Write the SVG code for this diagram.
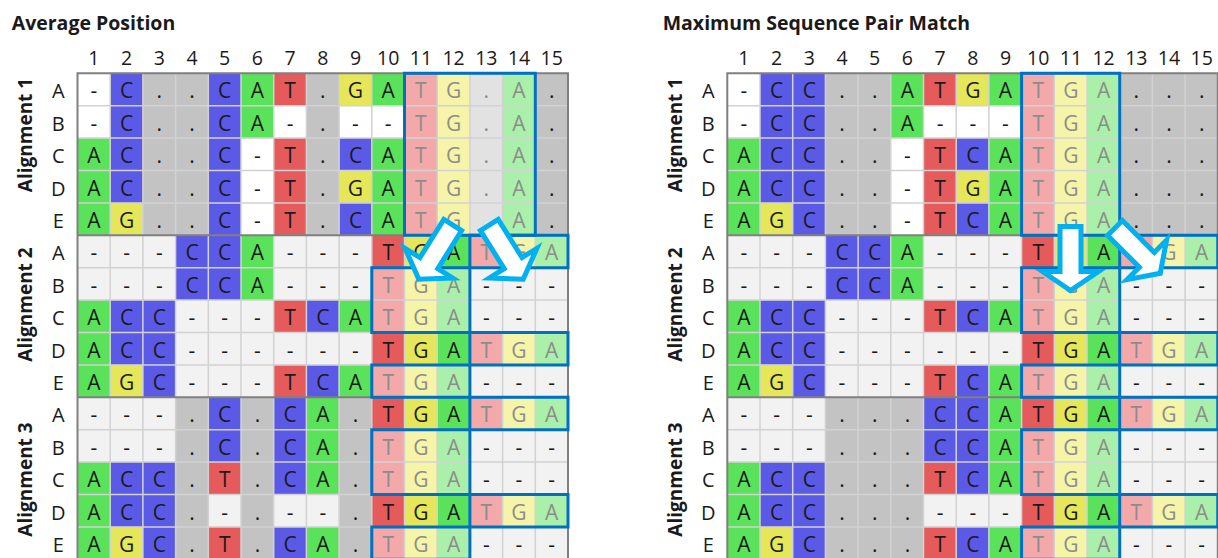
<svg xmlns="http://www.w3.org/2000/svg" width="1218" height="558" viewBox="0 0 1218 558">
<style>
text{font-family:"Open Sans","Liberation Sans",sans-serif;fill:#1a1a1a}
.c{font-size:21px;text-anchor:middle}
.f{fill:#8c8c8c}
.hd{font-size:19.5px;text-anchor:middle}
.rl{font-size:20px;text-anchor:middle}
.ttl{font-size:19.5px;font-weight:700}
.al{font-size:19px;font-weight:700;text-anchor:middle}
.w{fill:#ffffff}.l{fill:#f2f2f2}
.g{fill:#5ae35a}.b{fill:#5a5ae6}.r{fill:#e55a5a}.y{fill:#e6e65a}.k{fill:#c3c3c3}
.fr{fill:#f3a9a9}.fy{fill:#f5f4a9}.fg{fill:#aaf0aa}.fk{fill:#e2e2e2}
.ln{fill:none;stroke:#d2d2d2;stroke-width:1.5;vector-effect:non-scaling-stroke}
.sep{fill:none;stroke:#808080;stroke-width:2;vector-effect:non-scaling-stroke}
.box{fill:none;stroke:#0070c0;stroke-width:3;vector-effect:non-scaling-stroke}
.arw{fill:#ffffff;stroke:#00b0f0;stroke-width:5;stroke-linejoin:miter}
</style>
<defs>
  <!-- columns 10-15 of one alignment block: TGA / TGA stacking pattern -->
  <g id="tail">
    <rect class="r" x="9" y="0" width="1" height="1"/><rect class="fr" x="9" y="1" width="1" height="2"/><rect class="r" x="9" y="3" width="1" height="1"/><rect class="fr" x="9" y="4" width="1" height="1"/>
    <rect class="y" x="10" y="0" width="1" height="1"/><rect class="fy" x="10" y="1" width="1" height="2"/><rect class="y" x="10" y="3" width="1" height="1"/><rect class="fy" x="10" y="4" width="1" height="1"/>
    <rect class="g" x="11" y="0" width="1" height="1"/><rect class="fg" x="11" y="1" width="1" height="2"/><rect class="g" x="11" y="3" width="1" height="1"/><rect class="fg" x="11" y="4" width="1" height="1"/>
    <rect class="fr" x="12" y="0" width="1" height="1"/><rect class="fr" x="12" y="3" width="1" height="1"/>
    <rect class="fy" x="13" y="0" width="1" height="1"/><rect class="fy" x="13" y="3" width="1" height="1"/>
    <rect class="fg" x="14" y="0" width="1" height="1"/><rect class="fg" x="14" y="3" width="1" height="1"/>
  </g>
  <!-- columns 1-9 of alignment 2 -->
  <g id="a2head">
    <rect class="g" x="0" y="2" width="1" height="3"/>
    <rect class="b" x="1" y="2" width="1" height="2"/><rect class="y" x="1" y="4" width="1" height="1"/>
    <rect class="b" x="2" y="2" width="1" height="3"/>
    <rect class="b" x="3" y="0" width="2" height="2"/>
    <rect class="g" x="5" y="0" width="1" height="2"/>
    <rect class="r" x="6" y="2" width="1" height="1"/><rect class="r" x="6" y="4" width="1" height="1"/>
    <rect class="b" x="7" y="2" width="1" height="1"/><rect class="b" x="7" y="4" width="1" height="1"/>
    <rect class="g" x="8" y="2" width="1" height="1"/><rect class="g" x="8" y="4" width="1" height="1"/>
  </g>
  <path id="lines" class="ln" d="M1 0V15M2 0V15M3 0V15M4 0V15M5 0V15M6 0V15M7 0V15M8 0V15M9 0V15M10 0V15M11 0V15M12 0V15M13 0V15M14 0V15M0 1H15M0 2H15M0 3H15M0 4H15M0 6H15M0 7H15M0 8H15M0 9H15M0 11H15M0 12H15M0 13H15M0 14H15"/>
  <g id="frame">
    <path class="sep" d="M0 5H15M0 10H15"/>
    <rect class="sep" x="0" y="0" width="15" height="15"/>
  </g>
  <g id="lowerboxes">
    <rect class="box" x="12" y="5" width="3" height="1"/>
    <rect class="box" x="9" y="6" width="3" height="2"/>
    <rect class="box" x="12" y="8" width="3" height="1"/>
    <rect class="box" x="9" y="9" width="3" height="1"/>
    <rect class="box" x="12" y="10" width="3" height="1"/>
    <rect class="box" x="9" y="11" width="3" height="2"/>
    <rect class="box" x="12" y="13" width="3" height="1"/>
    <rect class="box" x="9" y="14" width="3" height="1"/>
  </g>
  <g id="labels">
    <text class="hd" y="65"><tspan x="93.9">1</tspan><tspan x="126.6">2</tspan><tspan x="159.3">3</tspan><tspan x="192">4</tspan><tspan x="224.7">5</tspan><tspan x="257.4">6</tspan><tspan x="290.1">7</tspan><tspan x="322.8">8</tspan><tspan x="355.5">9</tspan><tspan x="388.2">10</tspan><tspan x="420.9">11</tspan><tspan x="453.6">12</tspan><tspan x="486.3">13</tspan><tspan x="519">14</tspan><tspan x="551.7">15</tspan></text>
    <text class="rl" x="58.3" y="98.3">A</text><text class="rl" x="58.3" y="130.7">B</text><text class="rl" x="58.3" y="163.1">C</text><text class="rl" x="58.3" y="195.5">D</text><text class="rl" x="58.3" y="227.9">E</text>
    <text class="rl" x="58.3" y="260.3">A</text><text class="rl" x="58.3" y="292.7">B</text><text class="rl" x="58.3" y="325.1">C</text><text class="rl" x="58.3" y="357.5">D</text><text class="rl" x="58.3" y="389.9">E</text>
    <text class="rl" x="58.3" y="422.3">A</text><text class="rl" x="58.3" y="454.7">B</text><text class="rl" x="58.3" y="487.1">C</text><text class="rl" x="58.3" y="519.5">D</text><text class="rl" x="58.3" y="551.9">E</text>
    <text class="al" transform="translate(32,135) rotate(-90)">Alignment 1</text>
    <text class="al" transform="translate(32,304.5) rotate(-90)">Alignment 2</text>
    <text class="al" transform="translate(32,479.5) rotate(-90)">Alignment 3</text>
  </g>
</defs>

<!-- Panel 1: average position -->
<g id="average-position">
  <text class="ttl" x="11.7" y="29.5">Average Position</text>
  <use href="#labels"/>
  <g id="avg-cells" transform="translate(77.5,73.3) scale(32.7,32.4)">
    <rect class="w" x="0" y="0" width="15" height="5"/>
    <rect class="l" x="0" y="5" width="15" height="10"/>
    <!-- alignment 1 -->
    <rect class="g" x="0" y="2" width="1" height="3"/>
    <rect class="b" x="1" y="0" width="1" height="4"/><rect class="y" x="1" y="4" width="1" height="1"/>
    <rect class="k" x="2" y="0" width="2" height="5"/>
    <rect class="b" x="4" y="0" width="1" height="5"/>
    <rect class="g" x="5" y="0" width="1" height="2"/>
    <rect class="r" x="6" y="0" width="1" height="1"/><rect class="r" x="6" y="2" width="1" height="3"/>
    <rect class="k" x="7" y="0" width="1" height="5"/>
    <rect class="y" x="8" y="0" width="1" height="1"/><rect class="b" x="8" y="2" width="1" height="1"/><rect class="y" x="8" y="3" width="1" height="1"/><rect class="b" x="8" y="4" width="1" height="1"/>
    <rect class="g" x="9" y="0" width="1" height="1"/><rect class="g" x="9" y="2" width="1" height="3"/>
    <rect class="fr" x="10" y="0" width="1" height="5"/>
    <rect class="fy" x="11" y="0" width="1" height="5"/>
    <rect class="fk" x="12" y="0" width="1" height="5"/>
    <rect class="fg" x="13" y="0" width="1" height="5"/>
    <rect class="k" x="14" y="0" width="1" height="5"/>
    <!-- alignment 2 -->
    <use href="#a2head" y="5"/>
    <use href="#tail" y="5"/>
    <!-- alignment 3 -->
    <rect class="g" x="0" y="12" width="1" height="3"/>
    <rect class="b" x="1" y="12" width="1" height="2"/><rect class="y" x="1" y="14" width="1" height="1"/>
    <rect class="b" x="2" y="12" width="1" height="3"/>
    <rect class="k" x="3" y="10" width="1" height="5"/>
    <rect class="b" x="4" y="10" width="1" height="2"/><rect class="r" x="4" y="12" width="1" height="1"/><rect class="r" x="4" y="14" width="1" height="1"/>
    <rect class="k" x="5" y="10" width="1" height="5"/>
    <rect class="b" x="6" y="10" width="1" height="3"/><rect class="b" x="6" y="14" width="1" height="1"/>
    <rect class="g" x="7" y="10" width="1" height="3"/><rect class="g" x="7" y="14" width="1" height="1"/>
    <rect class="k" x="8" y="10" width="1" height="5"/>
    <use href="#tail" y="10"/>
    <use href="#lines"/>
    <use href="#frame"/>
    <rect class="box" x="10" y="0" width="4" height="5"/>
    <use href="#lowerboxes"/>
  </g>
  <g id="avg-text" class="c">
    <text x="93.9 126.6 159.3 192 224.7 257.4 290.1 322.8 355.5 388.2 420.9 453.6 486.3 519 551.7" y="98.3">-C..CAT.GA<tspan class="f">TG.A</tspan>.</text>
    <text x="93.9 126.6 159.3 192 224.7 257.4 290.1 322.8 355.5 388.2 420.9 453.6 486.3 519 551.7" y="130.7">-C..CA-.--<tspan class="f">TG.A</tspan>.</text>
    <text x="93.9 126.6 159.3 192 224.7 257.4 290.1 322.8 355.5 388.2 420.9 453.6 486.3 519 551.7" y="163.1">AC..C-T.CA<tspan class="f">TG.A</tspan>.</text>
    <text x="93.9 126.6 159.3 192 224.7 257.4 290.1 322.8 355.5 388.2 420.9 453.6 486.3 519 551.7" y="195.5">AC..C-T.GA<tspan class="f">TG.A</tspan>.</text>
    <text x="93.9 126.6 159.3 192 224.7 257.4 290.1 322.8 355.5 388.2 420.9 453.6 486.3 519 551.7" y="227.9">AG..C-T.CA<tspan class="f">TG.A</tspan>.</text>
    <text x="93.9 126.6 159.3 192 224.7 257.4 290.1 322.8 355.5 388.2 420.9 453.6 486.3 519 551.7" y="260.3">---CCA---TGA<tspan class="f">TGA</tspan></text>
    <text x="93.9 126.6 159.3 192 224.7 257.4 290.1 322.8 355.5 388.2 420.9 453.6 486.3 519 551.7" y="292.7">---CCA---<tspan class="f">TGA</tspan>---</text>
    <text x="93.9 126.6 159.3 192 224.7 257.4 290.1 322.8 355.5 388.2 420.9 453.6 486.3 519 551.7" y="325.1">ACC---TCA<tspan class="f">TGA</tspan>---</text>
    <text x="93.9 126.6 159.3 192 224.7 257.4 290.1 322.8 355.5 388.2 420.9 453.6 486.3 519 551.7" y="357.5">ACC------TGA<tspan class="f">TGA</tspan></text>
    <text x="93.9 126.6 159.3 192 224.7 257.4 290.1 322.8 355.5 388.2 420.9 453.6 486.3 519 551.7" y="389.9">AGC---TCA<tspan class="f">TGA</tspan>---</text>
    <text x="93.9 126.6 159.3 192 224.7 257.4 290.1 322.8 355.5 388.2 420.9 453.6 486.3 519 551.7" y="422.3">---.C.CA.TGA<tspan class="f">TGA</tspan></text>
    <text x="93.9 126.6 159.3 192 224.7 257.4 290.1 322.8 355.5 388.2 420.9 453.6 486.3 519 551.7" y="454.7">---.C.CA.<tspan class="f">TGA</tspan>---</text>
    <text x="93.9 126.6 159.3 192 224.7 257.4 290.1 322.8 355.5 388.2 420.9 453.6 486.3 519 551.7" y="487.1">ACC.T.CA.<tspan class="f">TGA</tspan>---</text>
    <text x="93.9 126.6 159.3 192 224.7 257.4 290.1 322.8 355.5 388.2 420.9 453.6 486.3 519 551.7" y="519.5">ACC.-.--.TGA<tspan class="f">TGA</tspan></text>
    <text x="93.9 126.6 159.3 192 224.7 257.4 290.1 322.8 355.5 388.2 420.9 453.6 486.3 519 551.7" y="551.9">AGC.T.CA.<tspan class="f">TGA</tspan>---</text>
  </g>
</g>

<!-- Panel 2: maximum sequence pair match -->
<g id="max-pair-match" transform="translate(650,0)">
  <text class="ttl" x="12.7" y="29.5">Maximum Sequence Pair Match</text>
  <use href="#labels"/>
  <g id="max-cells" transform="translate(77.3,73.3) scale(32.7,32.4)">
    <rect class="w" x="0" y="0" width="15" height="5"/>
    <rect class="l" x="0" y="5" width="15" height="10"/>
    <!-- alignment 1 -->
    <rect class="g" x="0" y="2" width="1" height="3"/>
    <rect class="b" x="1" y="0" width="1" height="4"/><rect class="y" x="1" y="4" width="1" height="1"/>
    <rect class="b" x="2" y="0" width="1" height="5"/>
    <rect class="k" x="3" y="0" width="2" height="5"/>
    <rect class="g" x="5" y="0" width="1" height="2"/>
    <rect class="r" x="6" y="0" width="1" height="1"/><rect class="r" x="6" y="2" width="1" height="3"/>
    <rect class="y" x="7" y="0" width="1" height="1"/><rect class="b" x="7" y="2" width="1" height="1"/><rect class="y" x="7" y="3" width="1" height="1"/><rect class="b" x="7" y="4" width="1" height="1"/>
    <rect class="g" x="8" y="0" width="1" height="1"/><rect class="g" x="8" y="2" width="1" height="3"/>
    <rect class="fr" x="9" y="0" width="1" height="5"/>
    <rect class="fy" x="10" y="0" width="1" height="5"/>
    <rect class="fg" x="11" y="0" width="1" height="5"/>
    <rect class="k" x="12" y="0" width="3" height="5"/>
    <!-- alignment 2 -->
    <use href="#a2head" y="5"/>
    <use href="#tail" y="5"/>
    <!-- alignment 3 -->
    <rect class="g" x="0" y="12" width="1" height="3"/>
    <rect class="b" x="1" y="12" width="1" height="2"/><rect class="y" x="1" y="14" width="1" height="1"/>
    <rect class="b" x="2" y="12" width="1" height="3"/>
    <rect class="k" x="3" y="10" width="3" height="5"/>
    <rect class="b" x="6" y="10" width="1" height="2"/><rect class="r" x="6" y="12" width="1" height="1"/><rect class="r" x="6" y="14" width="1" height="1"/>
    <rect class="b" x="7" y="10" width="1" height="3"/><rect class="b" x="7" y="14" width="1" height="1"/>
    <rect class="g" x="8" y="10" width="1" height="3"/><rect class="g" x="8" y="14" width="1" height="1"/>
    <use href="#tail" y="10"/>
    <use href="#lines"/>
    <use href="#frame"/>
    <rect class="box" x="9" y="0" width="3" height="5"/>
    <use href="#lowerboxes"/>
  </g>
  <g id="max-text" class="c">
    <text x="93.9 126.6 159.3 192 224.7 257.4 290.1 322.8 355.5 388.2 420.9 453.6 486.3 519 551.7" y="98.3">-CC..ATGA<tspan class="f">TGA</tspan>...</text>
    <text x="93.9 126.6 159.3 192 224.7 257.4 290.1 322.8 355.5 388.2 420.9 453.6 486.3 519 551.7" y="130.7">-CC..A---<tspan class="f">TGA</tspan>...</text>
    <text x="93.9 126.6 159.3 192 224.7 257.4 290.1 322.8 355.5 388.2 420.9 453.6 486.3 519 551.7" y="163.1">ACC..-TCA<tspan class="f">TGA</tspan>...</text>
    <text x="93.9 126.6 159.3 192 224.7 257.4 290.1 322.8 355.5 388.2 420.9 453.6 486.3 519 551.7" y="195.5">ACC..-TGA<tspan class="f">TGA</tspan>...</text>
    <text x="93.9 126.6 159.3 192 224.7 257.4 290.1 322.8 355.5 388.2 420.9 453.6 486.3 519 551.7" y="227.9">AGC..-TCA<tspan class="f">TGA</tspan>...</text>
    <text x="93.9 126.6 159.3 192 224.7 257.4 290.1 322.8 355.5 388.2 420.9 453.6 486.3 519 551.7" y="260.3">---CCA---TGA<tspan class="f">TGA</tspan></text>
    <text x="93.9 126.6 159.3 192 224.7 257.4 290.1 322.8 355.5 388.2 420.9 453.6 486.3 519 551.7" y="292.7">---CCA---<tspan class="f">TGA</tspan>---</text>
    <text x="93.9 126.6 159.3 192 224.7 257.4 290.1 322.8 355.5 388.2 420.9 453.6 486.3 519 551.7" y="325.1">ACC---TCA<tspan class="f">TGA</tspan>---</text>
    <text x="93.9 126.6 159.3 192 224.7 257.4 290.1 322.8 355.5 388.2 420.9 453.6 486.3 519 551.7" y="357.5">ACC------TGA<tspan class="f">TGA</tspan></text>
    <text x="93.9 126.6 159.3 192 224.7 257.4 290.1 322.8 355.5 388.2 420.9 453.6 486.3 519 551.7" y="389.9">AGC---TCA<tspan class="f">TGA</tspan>---</text>
    <text x="93.9 126.6 159.3 192 224.7 257.4 290.1 322.8 355.5 388.2 420.9 453.6 486.3 519 551.7" y="422.3">---...CCATGA<tspan class="f">TGA</tspan></text>
    <text x="93.9 126.6 159.3 192 224.7 257.4 290.1 322.8 355.5 388.2 420.9 453.6 486.3 519 551.7" y="454.7">---...CCA<tspan class="f">TGA</tspan>---</text>
    <text x="93.9 126.6 159.3 192 224.7 257.4 290.1 322.8 355.5 388.2 420.9 453.6 486.3 519 551.7" y="487.1">ACC...TCA<tspan class="f">TGA</tspan>---</text>
    <text x="93.9 126.6 159.3 192 224.7 257.4 290.1 322.8 355.5 388.2 420.9 453.6 486.3 519 551.7" y="519.5">ACC...---TGA<tspan class="f">TGA</tspan></text>
    <text x="93.9 126.6 159.3 192 224.7 257.4 290.1 322.8 355.5 388.2 420.9 453.6 486.3 519 551.7" y="551.9">AGC...TCA<tspan class="f">TGA</tspan>---</text>
  </g>
</g>

<!-- block arrows showing where the TGA group moves -->
<g id="connectors">
  <path class="arw" transform="translate(452.7,225) rotate(32)" d="M-10.5 0H10.5V45H28L0 64L-28 45H-10.5Z"/>
  <path class="arw" transform="translate(489.3,225) rotate(-32)" d="M-10.5 0H10.5V45H28L0 64L-28 45H-10.5Z"/>
  <path class="arw" transform="translate(1070.5,226.5)" d="M-10.5 0H10.5V45H28L0 64L-28 45H-10.5Z"/>
  <path class="arw" transform="translate(1115,228) rotate(-45)" d="M-10.5 0H10.5V45H28L0 64L-28 45H-10.5Z"/>
</g>
</svg>
